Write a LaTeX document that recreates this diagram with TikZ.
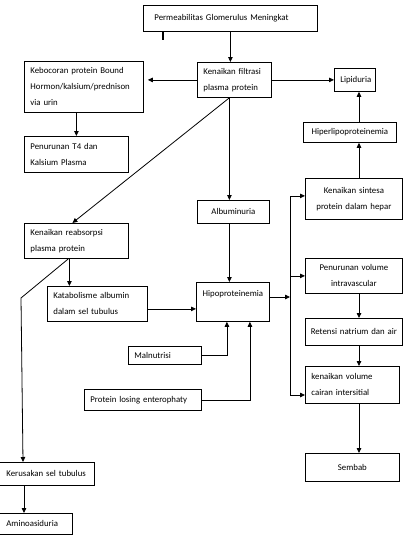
\documentclass[tikz,border=0pt]{standalone}
\usepackage{fontspec}
\setmainfont{Carlito}
\usetikzlibrary{positioning,arrows.meta}

\begin{document}
\begin{tikzpicture}[
  x=1pt,y=-1pt,
  box/.style={draw,line width=0.8pt,anchor=north west,inner xsep=6pt,inner ysep=0pt,align=left,font=\fontsize{8.8}{16}\selectfont},
  cbox/.style={box,align=center},
  arr/.style={-{Triangle[length=5pt,width=4.5pt]},line width=0.8pt}
]
\useasboundingbox (0,0) rectangle (411,536);
\node[box,inner xsep=11pt,text width=152pt,minimum height=26pt] (perm) at (143,5) {Permeabilitas Glomerulus Meningkat};
\node[box,text width=62pt,minimum height=35pt] (filt) at (197,62) {Kenaikan filtrasi\\plasma protein};
\node[box,text width=107pt,minimum height=51pt] (keb) at (24,61) {Kebocoran protein Bound\\Hormon/kalsium/prednison\\via urin};
\node[box,text width=92pt,minimum height=36pt] (t4) at (24,136) {Penurunan T4 dan\\Kalsium Plasma};
\node[box,text width=29pt,minimum height=23pt] (lipi) at (334,68) {Lipiduria};
\node[cbox,text width=81pt,minimum height=20pt] (hiper) at (303,122) {Hiperlipoproteinemia};
\node[cbox,text width=85pt,minimum height=41pt] (sint) at (305,178) {Kenaikan sintesa\\protein dalam hepar};
\node[cbox,text width=60pt,minimum height=23pt] (albu) at (197,200) {Albuminuria};
\node[box,text width=92pt,minimum height=35pt] (reab) at (24,223) {Kenaikan reabsorpsi\\plasma protein};
\node[box,text width=88pt,minimum height=35pt] (katab) at (47,286) {Katabolisme albumin\\dalam sel tubulus};
\node[cbox,text width=61pt,minimum height=39pt] (hipo) at (196,282) {Hipoproteinemia\\ ~};
\node[cbox,text width=85pt,minimum height=35pt] (pvol) at (305,258) {Penurunan volume\\intravascular};
\node[cbox,inner xsep=2pt,text width=93pt,minimum height=27pt] (ret) at (305,318) {Retensi natrium dan air};
\node[box,text width=61pt,minimum height=18pt] (maln) at (128,346) {Malnutrisi};
\node[box,text width=105pt,minimum height=21pt] (ple) at (84,389) {Protein losing enterophaty};
\node[box,text width=82pt,minimum height=37pt] (kvol) at (305,366) {kenaikan volume\\cairan intersitial};
\node[cbox,text width=82pt,minimum height=28pt] (semb) at (305,453) {Sembab};
\node[box,inner xsep=7pt,text width=81pt,minimum height=23pt] (rusak) at (-1,462) {Kerusakan sel tubulus};
\node[box,inner xsep=7pt,text width=59pt,minimum height=21pt] (amino) at (-1,513) {Aminoasiduria};

\coordinate (rx) at (359,0);
\coordinate (sp) at (290,297);
\coordinate (sb) at (290,395);
\coordinate (bend) at (21,298);

% stray tick under the top box
\draw[line width=1.6pt] (163,31) -- (163,40);

\draw[arr] (perm.south) -- (perm.south |- filt.north);
\draw[arr,shorten >=4pt] (filt.west) -- (filt.west -| keb.east);
\draw[arr] (filt.east) -- (filt.east -| lipi.west);
\draw[arr] (keb.south -| t4.north) -- (t4.north);
\draw[arr] ([xshift=-5pt]filt.south) -- ([xshift=-4pt]reab.north);
\draw[arr] ([xshift=-5pt]filt.south) -- ([xshift=-5pt]filt.south |- albu.north);
\draw[arr] ([xshift=-4pt]albu.south) -- ([xshift=-4pt]albu.south |- hipo.north);
\draw[arr] (sint.north -| rx) -- (hiper.south -| rx);
\draw[arr] (hiper.north -| rx) -- (lipi.south -| rx);
\draw[arr] ([xshift=-7pt]reab.south) -- ([xshift=-7pt]reab.south |- katab.north);
\draw[arr] ([yshift=-5pt]katab.east) -- ([yshift=-5pt]katab.east -| hipo.west);
\draw[arr] ([xshift=-8pt]reab.south) -- (bend) -- ([xshift=24pt]rusak.north west);
\draw[arr] ([xshift=25pt]rusak.south west) -- ([xshift=25pt]amino.north west);
\draw[arr] (maln.east) -| ([xshift=-6pt]hipo.south);
\draw[arr] (ple.east) -| ([xshift=17pt]hipo.south);
\draw[arr] (sp -| hipo.east) -- (sp);
\draw[arr] (sb) |- ([yshift=3pt]sint.west);
\draw[arr] (sp |- pvol.west) -- (pvol.west);
\draw[arr] (sb) -- (sb -| kvol.west);
\draw[arr] (pvol.south -| rx) -- (ret.north -| rx);
\draw[arr] (ret.south -| rx) -- (kvol.north -| rx);
\draw[arr] (kvol.south -| rx) -- (semb.north -| rx);
\end{tikzpicture}
\end{document}
